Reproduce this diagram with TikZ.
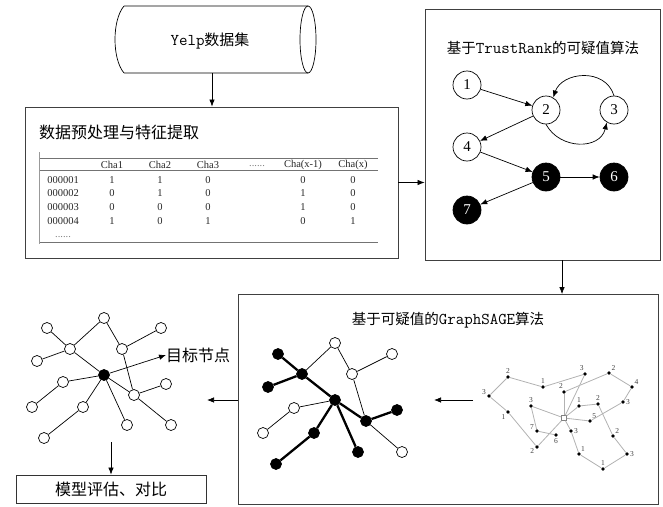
\documentclass[tikz,border=0pt]{standalone}
\usepackage{fontspec}
\setmainfont{Liberation Serif}
\newfontfamily\cjk{Noto Sans CJK SC}
\usetikzlibrary{arrows.meta}
\newcommand\myzh[1]{{\cjk #1}}
\newcommand\mylat[1]{{\ttfamily\fontsize{16.5}{16}\selectfont #1}}
\begin{document}
\begin{tikzpicture}[x=1pt,y=-1pt,
  box/.style={draw=black!75, line width=0.9pt},
  arr/.style={-{Latex[length=7pt,width=5.5pt]}, line width=0.7pt},
  zh16/.style={font=\cjk\fontsize{16}{16}\selectfont, inner sep=0},
  ttl/.style={font=\fontsize{14.5}{16}\selectfont, inner sep=0},
  tt/.style={font=\fontsize{10.5}{10.5}\selectfont, text=black!85, inner sep=0},
  tn/.style={circle, draw, line width=0.7pt, minimum size=28pt, inner sep=0, font=\fontsize{15}{15}\selectfont},
  tb/.style={tn, fill=black, text=white},
  wn/.style={circle, draw, fill=white, minimum size=11pt, inner sep=0, line width=0.7pt},
  bn/.style={wn, fill=black},
  te/.style={line width=0.7pt},
  tk/.style={line width=2.3pt},
  gd/.style={circle, fill=black, minimum size=3.8pt, inner sep=0},
  ge/.style={draw=black!30, line width=0.8pt},
  gl/.style={font=\fontsize{7.5}{7.5}\selectfont, text=black!75, inner sep=0.8pt}
]
\useasboundingbox (0,0) rectangle (663,506);

% ---------- Yelp cylinder ----------
\node[minimum width=192pt, minimum height=67pt, inner sep=0, font=\fontsize{15}{15}\selectfont] (yelp) at (210,41) {\mylat{Yelp}\myzh{数据集}};
\draw[line width=0.7pt] (124,6) -- (308,6) (124,73) -- (308,73)
  (124,6) .. controls (112,20) and (112,59) .. (124,73);
\draw[line width=0.7pt] (308,39.5) ellipse [x radius=8, y radius=33.5];

% ---------- data box ----------
\node[box, minimum width=373pt, minimum height=151pt, inner sep=0] (data) at (211.5,182.5) {};
\draw[arr] (212,73) -- (212,0 |- data.north);
\node[zh16, anchor=west] (dtitle) at (39,132) {数据预处理与特征提取};
\draw[black!55, line width=0.7pt] (39,158) -- (378,158) (39,170) -- (378,170) (39,242) -- (378,242);
\draw[black!40, line width=0.5pt] (39,152) -- (39,244);
\foreach \x/\t [count=\i] in {112/Cha1,160/Cha2,208/Cha3,303/Cha(x-1),353/Cha(x)}
  \node[tt] (h\i) at (\x,165) {\t};
\node[tt, text=black!50] (hdots) at (257,166) {......};
\foreach \y/\lab/\a/\b/\c/\d/\e [count=\r] in {180/000001/1/1/0/0/0, 193.5/000002/0/1/0/1/0, 207/000003/0/0/0/1/0, 221/000004/1/0/1/0/1}{
  \node[tt] (r\r) at (63,\y) {\lab};
  \node[tt] (r\r a) at (112,\y) {\a};
  \node[tt] (r\r b) at (160,\y) {\b};
  \node[tt] (r\r c) at (208,\y) {\c};
  \node[tt] (r\r d) at (303,\y) {\d};
  \node[tt] (r\r e) at (353,\y) {\e};
}
\node[tt, text=black!50] (rdots) at (63,237) {......};

% ---------- TrustRank box ----------
\node[box, minimum width=235pt, minimum height=251pt, inner sep=0] (trust) at (542.5,134.5) {};
\draw[arr] (data.east) -- (trust.west |- data.east);
\node[ttl] (ttitle) at (543,48) {\myzh{基于}\mylat{TrustRank}\myzh{的可疑值算法}};
\node[tn] (n1) at (467,85) {1};
\node[tn] (n2) at (546,110) {2};
\node[tn] (n3) at (614,110) {3};
\node[tn] (n4) at (467,147) {4};
\node[tb] (n5) at (546,177) {5};
\node[tb] (n6) at (614,177) {6};
\node[tb] (n7) at (467,210) {7};
\draw[arr] (n1) -- (n2);
\draw[arr] (n2) -- (n4);
\draw[arr] (n4) -- (n5);
\draw[arr] (n5) -- (n6);
\draw[arr] (n5) -- (n7);
\draw[arr] (n3.north) .. controls (605,67) and (562,72) .. (n2.60);
\draw[arr] (n2.south) .. controls (560,150) and (600,150) .. (n3.240);

% ---------- GraphSAGE box ----------
\node[box, minimum width=420pt, minimum height=210pt, inner sep=0] (gs) at (448,399.5) {};
\draw[arr] ([xshift=19.5pt]trust.south) -- ([xshift=19.5pt]trust.south |- gs.north);
\node[ttl] (gtitle) at (448,320) {\myzh{基于可疑值的}\mylat{GraphSAGE}\myzh{算法}};

% left graph in GraphSAGE box
\node[bn] (sA) at (278,354) {};
\node[bn] (sB) at (302,374) {};
\node[bn] (sC) at (268,387) {};
\node[wn] (sD) at (335,343) {};
\node[wn] (sE) at (392,354) {};
\node[wn] (sF) at (352,374) {};
\node[bn] (sG) at (335,400) {};
\node[wn] (sH) at (294,408) {};
\node[bn] (sI) at (397,410) {};
\node[bn] (sJ) at (366,421) {};
\node[wn] (sK) at (263,433) {};
\node[bn] (sL) at (314,433) {};
\node[bn] (sM) at (358,452) {};
\node[wn] (sN) at (402,452) {};
\node[bn] (sO) at (276,464) {};
\draw[tk] (sA) -- (sB);
\draw[tk] (sC) -- (sB);
\draw[tk] (sB) -- (sG);
\draw[tk] (sG) -- (sJ);
\draw[tk] (sJ) -- (sI);
\draw[tk] (sG) -- (sL);
\draw[tk] (sL) -- (sO);
\draw[tk] (sG) -- (sM);
\draw[te] (sB) -- (sD);
\draw[te] (sD) -- (sF);
\draw[te] (sF) -- (sE);
\draw[te] (sF) -- (sJ);
\draw[te] (sG) -- (sH);
\draw[te] (sH) -- (sK);
\draw[te] (sJ) -- (sN);

% inner arrow
\coordinate (ia1) at (473,400);
\coordinate (ia2) at (434,400);
\draw[arr] (ia1) -- (ia2);

% right graph
\node[gd, label={[gl]90:2}] (p1) at (508,377) {};
\node[gd, label={[gl]90:1}] (p2) at (543,387) {};
\node[gd, label={[gl]100:3}] (p3) at (585,374) {};
\node[gd, label={[gl]40:2}] (p4) at (609,373) {};
\node[gd, label={[gl]40:4}] (p5) at (632,387) {};
\node[gd, label={[gl]170:3}] (p6) at (489,396) {};
\node[gd, label={[gl]95:2}] (p7) at (564,392) {};
\node[gd, label={[gl]90:3}] (p8) at (531,406) {};
\node[gd, label={[gl]90:1}] (p9) at (579,406) {};
\node[gd, label={[gl]90:2}] (p10) at (598,404) {};
\node[gd, label={[gl]0:3}] (p11) at (623,402) {};
\node[gd, label={[gl]220:1}] (p12) at (508,412) {};
\node[draw=black!50, fill=white, minimum size=5pt, inner sep=0, line width=0.5pt] (q) at (564,418) {};
\node[gd, label={[gl]45:5}] (p13) at (590,421) {};
\node[gd, label={[gl]170:7}] (p14) at (537,431) {};
\node[gd, label={[gl]270:6}] (p15) at (556,435) {};
\node[gd, label={[gl]0:3}] (p16) at (571,431) {};
\node[gd, label={[gl]45:2}] (p17) at (613,436) {};
\node[gd, label={[gl]200:2}] (p18) at (537,447) {};
\node[gd, label={[gl]60:1}] (p19) at (579,454) {};
\node[gd, label={[gl]0:3}] (p20) at (627,454) {};
\node[gd, label={[gl]90:1}] (p21) at (603,469) {};
\begin{scope}[ge]
\draw (p6) -- (p1); \draw (p1) -- (p2); \draw (p2) -- (p3);
\draw (p6) -- (p12); \draw (p12) -- (p18); \draw (p18) -- (q);
\draw (p3) -- (q); \draw (p7) -- (q); \draw (p4) -- (p7);
\draw (p4) -- (p5); \draw (p5) -- (p11); \draw (p11) -- (p13);
\draw (p13) -- (q); \draw (p8) -- (q); \draw (p8) -- (p14);
\draw (p14) -- (p15); \draw (p9) -- (q); \draw (p9) -- (p10);
\draw (p10) -- (p17); \draw (p17) -- (p20); \draw (p20) -- (p21);
\draw (p21) -- (p19); \draw (p19) -- (p16); \draw (p16) -- (q);
\end{scope}

% ---------- left result panel ----------
\coordinate (lt) at (207,400);
\draw[arr] (gs.west |- lt) -- (lt);
\node[wn] (a) at (47,328) {};
\node[wn] (b) at (104,318) {};
\node[wn] (c) at (161,328) {};
\node[wn] (d) at (70,349) {};
\node[wn] (e) at (122,349) {};
\node[wn] (f) at (37,361) {};
\node[bn] (ctr) at (104,375) {};
\node[wn] (g) at (63,382) {};
\node[wn] (h) at (166,384) {};
\node[wn] (i) at (134,395) {};
\node[wn] (j) at (32,407) {};
\node[wn] (k) at (83,407) {};
\node[wn] (l) at (127,425) {};
\node[wn] (m) at (171,425) {};
\node[wn] (n) at (44,438) {};
\foreach \u/\v in {a/d,d/f,d/b,d/ctr,b/e,e/c,e/i,ctr/g,g/j,ctr/k,k/n,ctr/l,ctr/i,i/h,i/m}
  \draw[te] (\u) -- (\v);
\node[zh16, anchor=west] (tgt) at (166,355) {目标节点};
\draw[arr] (ctr) -- (tgt.west);

\node[draw=black!80, line width=0.8pt, minimum width=190pt, minimum height=28pt, inner sep=0, zh16] (eval) at (111,489) {模型评估、对比};
\coordinate (ev0) at (111,442);
\draw[arr] (ev0) -- (eval.north);
\end{tikzpicture}
\end{document}
